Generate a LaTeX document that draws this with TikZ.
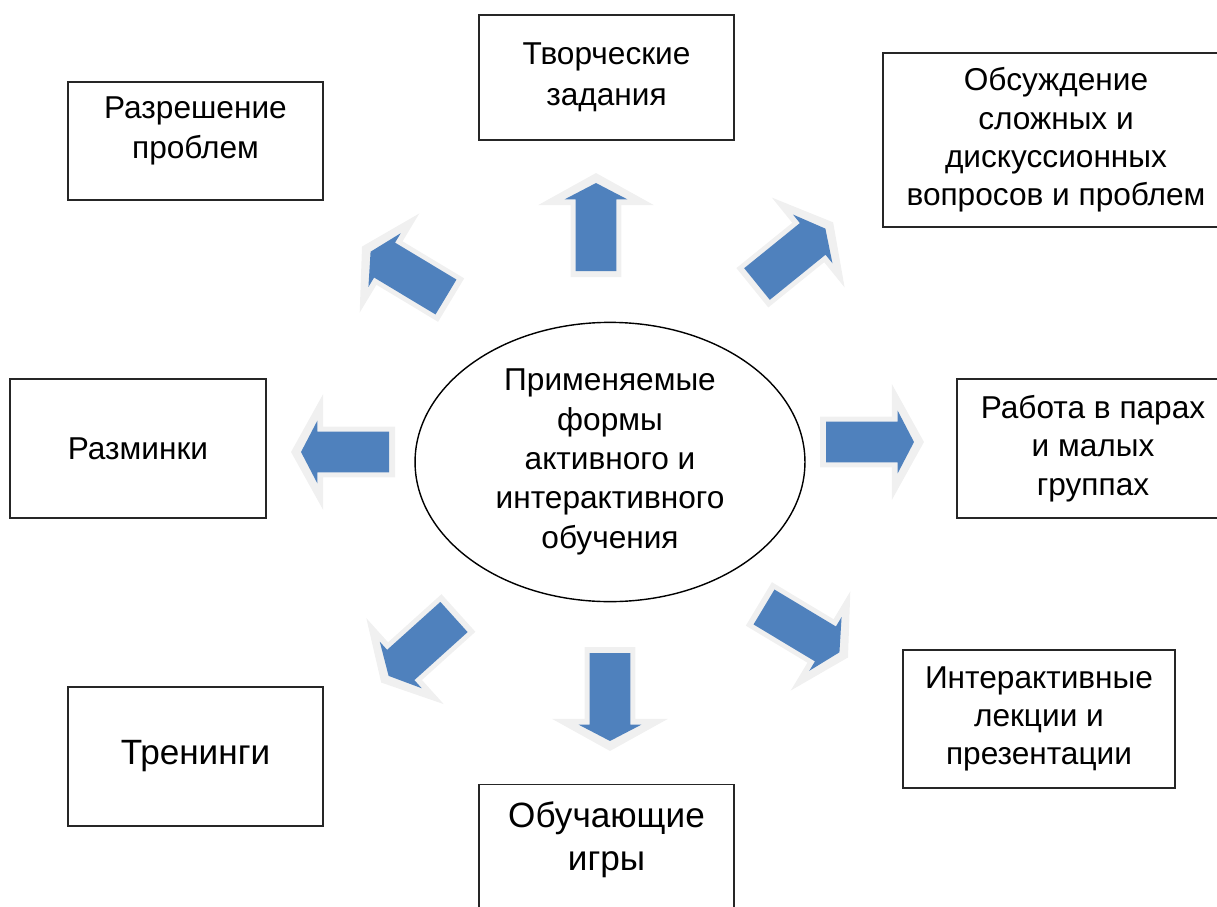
\documentclass[tikz,border=0pt]{standalone}
\usepackage{fontspec}
\setmainfont{Liberation Sans}
\usetikzlibrary{shapes.geometric,shapes.arrows,calc}

\definecolor{arrowblue}{HTML}{4F81BD}

\tikzset{
	box/.style={draw=black!85, line width=1pt, align=center, inner sep=0pt,
		font=\fontsize{18}{21.8}\selectfont},
	bigbox/.style={box, font=\fontsize{20}{24.4}\selectfont},
	boxtext/.style={align=center, inner sep=0pt, font=\fontsize{18}{22.5}\selectfont},
	bigtext/.style={boxtext, font=\fontsize{20}{24.4}\selectfont},
	bluearrow/.style={single arrow, fill=arrowblue, inner xsep=0pt, inner ysep=0.4cm,
		single arrow head extend=0.22cm, single arrow tip angle=125,
		minimum height=1.76cm, anchor=tail, outer sep=0pt},
	glowarrow/.style={single arrow, fill=black!6, inner xsep=0pt, inner ysep=0.5cm,
		single arrow head extend=0.65cm, single arrow tip angle=122,
		minimum height=2.08cm, anchor=tail, outer sep=0pt}
}

% block arrow: name, tail, angle
\newcommand{\blockarrow}[3]{%
	\node[glowarrow, rotate=#3] (#1-glow) at ($(#2)+(#3+180:0.12cm)$) {};
	\node[bluearrow, rotate=#3] (#1) at (#2) {};
}

\begin{document}
\begin{tikzpicture}[x=0.02cm, y=-0.02cm]
		
		\useasboundingbox (0,0) rectangle (1217,906);
		
		% Centre
		\node[ellipse, draw, line width=0.8pt, minimum width=7.8cm, minimum height=4.6cm,
			align=center, font=\fontsize{18}{22.4}\selectfont] (forms) at (610,462)
			{Применяемые\\формы\\активного и\\интерактивного\\обучения};
		
		% Boxes
		\node[box, minimum width=5.1cm, minimum height=2.36cm] (razresh) at (195.5,141) {};
		\node[boxtext] (razresh-text) at (razresh.center) [yshift=0.2cm] {Разрешение\\проблем};
		\node[box, minimum width=5.1cm, minimum height=2.5cm, font=\fontsize{18}{23.5}\selectfont] (tvorch) at (606.5,77.5) {Творческие\\задания};
		\node[box, minimum width=6.92cm, minimum height=3.48cm] (obsuzhd) at (1056,140) {Обсуждение\\сложных и\\дискуссионных\\вопросов и проблем};
		\node[box, minimum width=5.12cm, minimum height=2.78cm] (razminki) at (138,448.5) {Разминки};
		\node[box, minimum width=5.44cm, minimum height=2.78cm] (rabota) at (1093,448.5) {Работа в парах\\и малых\\группах};
		\node[bigbox, minimum width=5.1cm, minimum height=2.78cm] (treningi) at (195.5,756.5) {Тренинги};
		\node[box, minimum width=5.1cm, minimum height=2.7cm] (obuch) at (606.5,852) {};
		\node[bigtext] (obuch-text) at (obuch.center) [yshift=0.24cm] {Обучающие\\игры};
		\node[box, minimum width=5.44cm, minimum height=2.76cm] (interakt) at (1039,719) {Интерактивные\\лекции и\\презентации};
		
		% Arrows
		\blockarrow{a-tvorch}{596,271}{90}
		\blockarrow{a-obuch}{610,653}{270}
		\blockarrow{a-razminki}{389,452}{180}
		\blockarrow{a-rabota}{826,442}{0}
		\blockarrow{a-razresh}{446,297}{149}
		\blockarrow{a-obsuzhd}{757,284}{39}
		\blockarrow{a-treningi}{454,617}{222}
		\blockarrow{a-interakt}{764,607}{-31}
		
\end{tikzpicture}
\end{document}
